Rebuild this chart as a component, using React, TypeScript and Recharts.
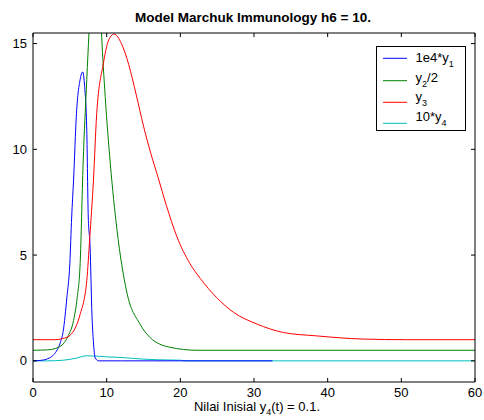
import React from 'react';
import { LineChart, Line, XAxis, YAxis } from 'recharts';

const FONT = '"Liberation Sans", Arial, Helvetica, sans-serif';

const xTicks = [0, 10, 20, 30, 40, 50, 60];
const yTicks = [0, 5, 10, 15];

// 1e4*y1
const y1Time = [0, 1, 2, 2.7, 3.2, 3.7, 4.1, 4.6, 5.0, 5.25, 5.5, 5.9, 6.4, 6.75, 7.0, 7.3, 7.5, 7.75, 8.0, 8.2, 8.45, 8.9, 12, 20, 32.5];
const y1Vals = [0, 0.02, 0.1, 0.25, 0.47, 0.85, 1.4, 3.0, 4.6, 6.8, 8.5, 11.7, 13.3, 13.66, 13.0, 10.9, 6.8, 5.4, 2.2, 0.9, 0.14, 0, 0, 0, 0];

// y2/2
const y2Time = [0, 2, 3, 3.5, 4.1, 4.8, 5.5, 6.0, 6.4, 6.8, 7.3, 7.6, 8.0, 8.5, 9.0, 9.3, 9.8, 10.5, 11.4, 12.7, 14.5, 15.9, 17.2, 18.5, 20.4, 22, 60];
const y2Vals = [0.5, 0.52, 0.58, 0.65, 0.8, 1.2, 1.9, 3.0, 4.6, 9.3, 13.3, 15.5, 18, 19, 18, 15.5, 12.5, 9.3, 6.2, 3.3, 1.75, 1.1, 0.79, 0.65, 0.54, 0.5, 0.5];

// y3
const y3Time = [0, 3, 4, 5.0, 5.8, 6.4, 7.3, 7.7, 8.2, 8.65, 9.55, 10.2, 11.0, 12.0, 13.0, 14.0, 15.0, 16.0, 17.0, 18.1, 19.5, 21.3, 22.7, 24.9, 27.2, 30.4, 34, 38.5, 44.8, 50.7, 60];
const y3Vals = [1.0, 1.0, 1.05, 1.2, 1.6, 2.2, 3.8, 5.8, 8.5, 11.7, 14.05, 15.1, 15.45, 15.0, 14.0, 12.6, 11.1, 9.8, 8.65, 7.35, 5.9, 4.6, 3.9, 3.0, 2.3, 1.74, 1.34, 1.18, 1.03, 1.0, 1.0];

// 10*y4
const y4Time = [0, 2, 4.1, 5.0, 5.9, 6.6, 7.3, 8.6, 10, 11.8, 13.5, 15, 17, 20, 21, 60];
const y4Vals = [0, 0, 0.03, 0.07, 0.13, 0.2, 0.24, 0.22, 0.19, 0.16, 0.12, 0.08, 0.05, 0.03, 0, 0];

const toPoints = (t: number[], v: number[]) => t.map((x, i) => ({ t: x, v: v[i] }));

const legendItems = [
  { base: '1e4*y', sub: '1', rest: '', color: '#0000ff', lineY: 58.3, textY: 62.3 },
  { base: 'y', sub: '2', rest: '/2', color: '#008000', lineY: 80.7, textY: 81.7 },
  { base: 'y', sub: '3', rest: '', color: '#ff0000', lineY: 102.3, textY: 101.2 },
  { base: '10*y', sub: '4', rest: '', color: '#00bfbf', lineY: 123.3, textY: 120.7 },
];

const tickStyle = { fontSize: 13, fill: '#000', fontFamily: FONT };
const blank = () => '';

export default function App() {
  return (
    <div style={{ position: 'absolute', left: 0, top: 0, width: 484, height: 420, background: '#fff' }}>
      <LineChart width={484} height={420} margin={{ top: 3, right: 0, bottom: 0, left: 0 }}>
        <XAxis
          xAxisId="b"
          type="number"
          dataKey="t"
          domain={[0, 60]}
          ticks={xTicks}
          interval={0}
          allowDataOverflow
          height={38}
          tickSize={-4}
          tickMargin={10}
          tick={tickStyle}
          axisLine={{ stroke: '#000' }}
          tickLine={{ stroke: '#000' }}
        />
        <XAxis
          xAxisId="t"
          orientation="top"
          type="number"
          dataKey="t"
          domain={[0, 60]}
          ticks={xTicks}
          interval={0}
          allowDataOverflow
          height={30}
          tickSize={-4}
          tickFormatter={blank}
          axisLine={{ stroke: '#000' }}
          tickLine={{ stroke: '#000' }}
        />
        <YAxis
          yAxisId="l"
          type="number"
          domain={[-1, 15.5]}
          ticks={yTicks}
          interval={0}
          allowDataOverflow
          width={33}
          tickSize={-4}
          tickMargin={10}
          tick={tickStyle}
          axisLine={{ stroke: '#000' }}
          tickLine={{ stroke: '#000' }}
        />
        <YAxis
          yAxisId="r"
          orientation="right"
          type="number"
          domain={[-1, 15.5]}
          ticks={yTicks}
          interval={0}
          allowDataOverflow
          width={9}
          tickSize={-4}
          tickFormatter={blank}
          axisLine={{ stroke: '#000' }}
          tickLine={{ stroke: '#000' }}
        />
        <Line xAxisId="b" yAxisId="l" data={toPoints(y4Time, y4Vals)} dataKey="v" type="monotone" stroke="#00bfbf" strokeWidth={1} dot={false} isAnimationActive={false} />
        <Line xAxisId="b" yAxisId="l" data={toPoints(y1Time, y1Vals)} dataKey="v" type="monotone" stroke="#0000ff" strokeWidth={1} dot={false} isAnimationActive={false} />
        <Line xAxisId="b" yAxisId="l" data={toPoints(y2Time, y2Vals)} dataKey="v" type="monotone" stroke="#008000" strokeWidth={1} dot={false} isAnimationActive={false} />
        <Line xAxisId="b" yAxisId="l" data={toPoints(y3Time, y3Vals)} dataKey="v" type="monotone" stroke="#ff0000" strokeWidth={1} dot={false} isAnimationActive={false} />
      </LineChart>
      <svg width={484} height={420} style={{ position: 'absolute', left: 0, top: 0, pointerEvents: 'none' }} fontFamily={FONT}>
        <text x={253} y={22.3} textAnchor="middle" fontSize={13.5} fontWeight="bold" fill="#000">
          Model Marchuk Immunology h6 = 10.
        </text>
        <text x={257} y={410.7} textAnchor="middle" fontSize={13} fill="#000">
          Nilai Inisial y<tspan dy={4} fontSize={9}>4</tspan><tspan dy={-4}>(t) = 0.1.</tspan>
        </text>
        <rect x={376.5} y={46.5} width={89} height={84} fill="#fff" stroke="#000" strokeWidth={1} />
        {legendItems.map((it) => (
          <g key={it.base + it.sub}>
            <line x1={383} x2={407} y1={it.lineY} y2={it.lineY} stroke={it.color} strokeWidth={1} />
            <text x={415.5} y={it.textY} fontSize={13} fill="#000">
              {it.base}
              <tspan dy={5} fontSize={9}>{it.sub}</tspan>
              {it.rest ? <tspan dy={-5}>{it.rest}</tspan> : null}
            </text>
          </g>
        ))}
      </svg>
    </div>
  );
}
